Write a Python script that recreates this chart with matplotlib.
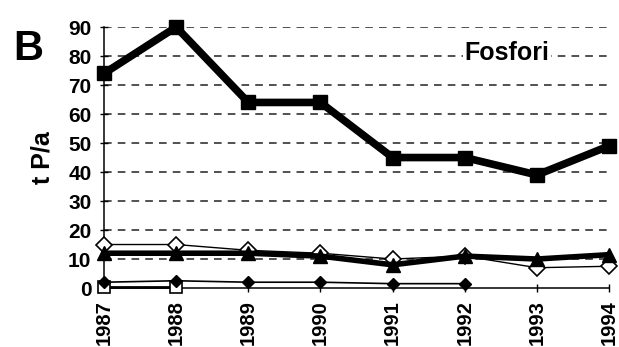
import matplotlib
matplotlib.use("Agg")
import matplotlib.pyplot as plt
import numpy as np

years = ["1987", "1988", "1989", "1990", "1991", "1992", "1993", "1994"]
total = [74, 90, 64, 64, 45, 45, 39, 49]
open_diamond = [15, 15, 13, 12, 10, 11, 7, 7.5]
triangle = [12, 12, 12, 11, 8, 11, 10, 11.5]
small_diamond = [2, 2.5, 2, 2, 1.5, 1.5, np.nan, np.nan]
open_square = [0.5, 0.5, np.nan, np.nan, np.nan, np.nan, np.nan, np.nan]
yticks = list(range(0, 100, 10))

plt.rcParams["font.family"] = ["Liberation Sans", "DejaVu Sans"]
plt.rcParams["font.weight"] = "bold"

fig = plt.figure(figsize=(6.19, 3.47), dpi=100)
ax = fig.add_axes([0.168, 0.170, 0.816, 0.752])
x = np.arange(len(years))

for v in yticks[1:]:
    ax.axhline(v, color="#222222", lw=1.1, ls=(0, (5, 4)), zorder=1)

ax.plot(x, open_square, color="black", lw=2, marker="s", ms=9,
        mfc="white", mec="black", mew=1.2, zorder=3, clip_on=False)
ax.plot(x, small_diamond, color="black", lw=1.2, marker="D", ms=6,
        mfc="black", mec="black", zorder=4, clip_on=False)
ax.plot(x, open_diamond, color="black", lw=1.0, marker="D", ms=8.5,
        mfc="white", mec="black", mew=1.2, zorder=4, clip_on=False)
ax.plot(x, triangle, color="black", lw=4, marker="^", ms=9.5,
        mfc="black", mec="black", zorder=5, clip_on=False)
ax.plot(x, total, color="black", lw=5.5, marker="s", ms=10,
        mfc="black", mec="black", zorder=6, clip_on=False)

ax.set_xlim(0, len(years) - 1)
ax.set_ylim(0, 90)
ax.set_yticks(yticks)
ax.set_yticklabels([str(v) for v in yticks], fontsize=15, fontweight="bold")
ax.set_xticks(x)
ax.set_xticklabels(years, rotation=90, fontsize=14.5, fontweight="bold")
ax.tick_params(axis="both", direction="inout", length=6, width=1)
ax.tick_params(axis="x", pad=6)
ax.tick_params(axis="y", pad=6)

for s in ["top", "right"]:
    ax.spines[s].set_visible(False)
ax.spines["left"].set_linewidth(1.1)
ax.spines["bottom"].set_linewidth(1.1)

ax.set_ylabel("t P/a", fontsize=18, fontweight="bold", labelpad=10)
fig.text(0.021, 0.80, "B", fontsize=30, fontweight="bold", ha="left", va="bottom")
ax.text(5.0, 81, "Fosfori", fontsize=18, fontweight="bold", ha="left", va="center",
        bbox=dict(facecolor="white", edgecolor="none", pad=1), zorder=7)

fig.savefig("out.png", dpi=100)
